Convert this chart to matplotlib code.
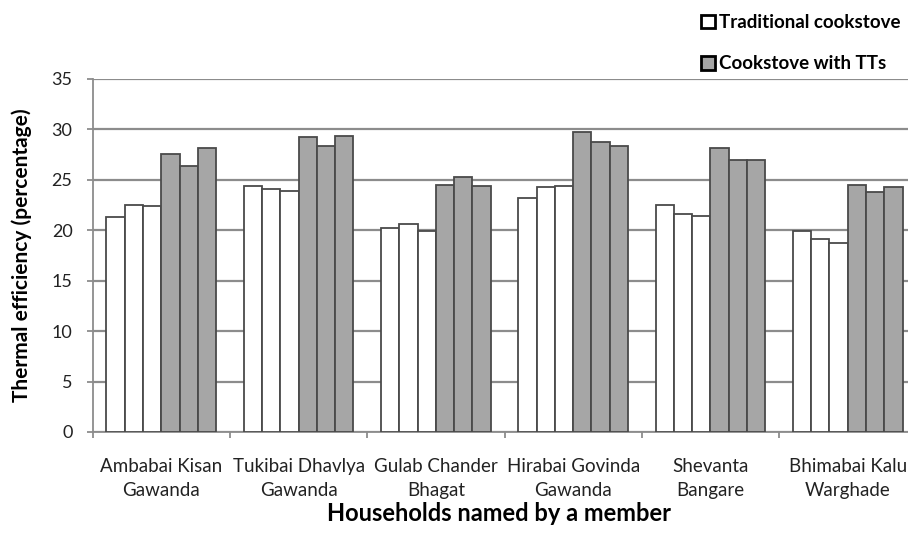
import matplotlib.pyplot as plt
import numpy as np
from matplotlib.patches import Patch

plt.rcParams['font.family'] = ['Lato', 'DejaVu Sans']

households = ['Ambabai Kisan\nGawanda', 'Tukibai Dhavlya\nGawanda', 'Gulab Chander\nBhagat',
              'Hirabai Govinda\nGawanda', 'Shevanta\nBangare', 'Bhimabai Kalu\nWarghade']

# three trials each
trad_1 = [21.3, 24.4, 20.2, 23.2, 22.5, 19.9]
trad_2 = [22.5, 24.1, 20.6, 24.3, 21.6, 19.1]
trad_3 = [22.4, 23.9, 19.9, 24.4, 21.4, 18.7]
tts_1 = [27.6, 29.2, 24.5, 29.7, 28.2, 24.5]
tts_2 = [26.4, 28.4, 25.3, 28.7, 27.0, 23.8]
tts_3 = [28.2, 29.3, 24.4, 28.4, 27.0, 24.3]

fig = plt.figure(figsize=(9.08, 5.52), dpi=100)
ax = fig.add_axes([0.102, 0.2174, 0.9073, 0.6396])

x = np.arange(len(households))
w = 1 / 7.5
series = [trad_1, trad_2, trad_3, tts_1, tts_2, tts_3]
colors = ['white'] * 3 + ['#a6a6a6'] * 3
for i, (vals, c) in enumerate(zip(series, colors)):
    ax.bar(x + (i - 2.5) * w, vals, w, color=c, edgecolor='#4a4a4a', linewidth=1.3, zorder=3)

ax.set_xlim(-0.5, 5.5)
ax.set_ylim(0, 35)
ax.set_yticks(range(0, 36, 5))
ax.yaxis.grid(True, color='#8c8c8c', linewidth=1.6, zorder=0)
ax.set_axisbelow(True)
for s in ['top', 'right']:
    ax.spines[s].set_visible(False)
for s in ['left', 'bottom']:
    ax.spines[s].set_color('#8c8c8c')
    ax.spines[s].set_linewidth(1.3)

ax.set_xticks(np.arange(-0.5, 6, 1))
ax.set_xticklabels([])
ax.set_xticks(x, minor=True)
ax.set_xticklabels(households, minor=True, fontsize=13.5, linespacing=1.55, color='#222222')
ax.tick_params(axis='x', which='minor', length=0, pad=18.5)
ax.tick_params(axis='x', which='major', length=4.5, color='#8c8c8c', width=1.3)
ax.tick_params(axis='y', length=4.5, color='#8c8c8c', width=1.3, labelsize=13, pad=10,
               labelcolor='#222222')

ax.set_ylabel('Thermal efficiency (percentage)', fontsize=15, fontweight='bold')
ax.yaxis.set_label_coords(-0.074, 0.5)
fig.text(0.55, 0.07, 'Households named by a member', fontsize=17, fontweight='bold',
         ha='center', va='center')

handles = [Patch(facecolor='white', edgecolor='black', linewidth=2),
           Patch(facecolor='#a6a6a6', edgecolor='black', linewidth=2)]
fig.legend(handles, ['Traditional cookstove', 'Cookstove with TTs'], loc='upper left',
           bbox_to_anchor=(701 / 908, 1 - 14 / 552), frameon=False, handlelength=0.75,
           handleheight=0.75, handletextpad=0.2, labelspacing=1.3, borderaxespad=0,
           borderpad=0, prop={'weight': 'bold', 'size': 13.5})

fig.savefig('out.png', dpi=100)
